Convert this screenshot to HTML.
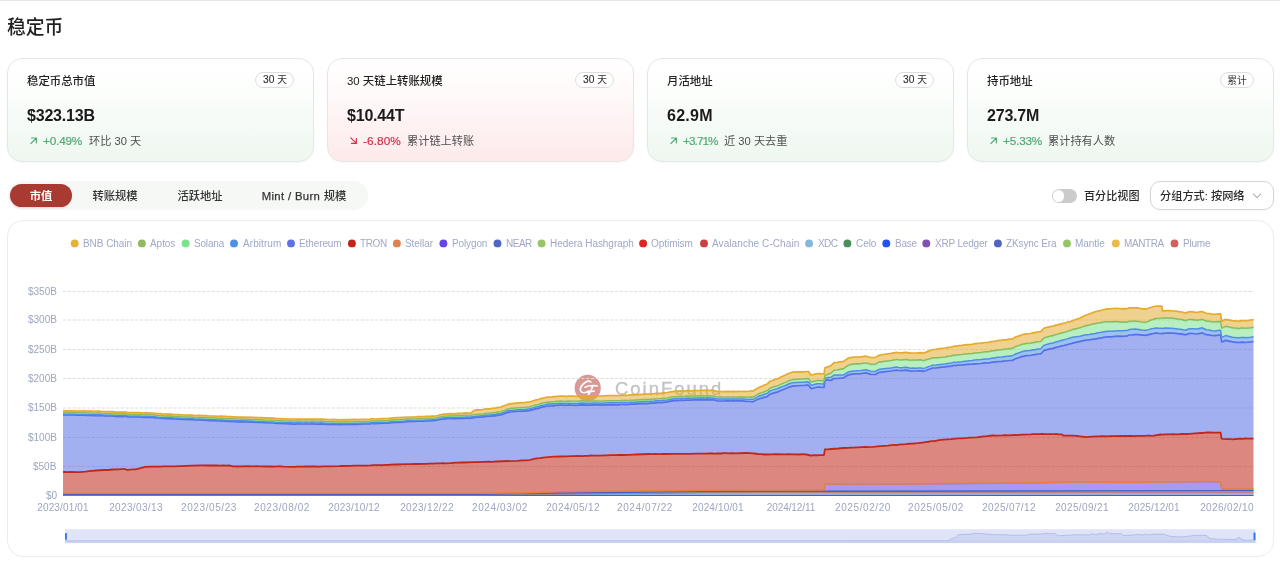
<!DOCTYPE html><html lang="zh"><head><meta charset="utf-8"><title>稳定币</title><style>
*{box-sizing:border-box}
html,body{margin:0;padding:0;background:#fff}
body{width:1280px;height:569px;position:relative;overflow:hidden;font-family:"Liberation Sans", "Noto Sans CJK SC", sans-serif;-webkit-font-smoothing:antialiased}
.t{position:absolute;white-space:nowrap;will-change:transform}
.cj{display:inline;font-family:"Liberation Sans", "Noto Sans CJK SC", sans-serif}
.card{position:absolute;border-radius:15px;border:1px solid #e4e7e4;box-shadow:0 1px 2px rgba(0,0,0,.03)}
.badge{position:absolute;border-radius:8px;border:1px solid #dcdedc;background:#fff}
.ccard{position:absolute;border-radius:16px;border:1px solid #ececee;background:#fff}
.topline{position:absolute;left:0;top:0;width:1280px;height:1px;background:#e6e8e6}
</style></head><body><div class="topline"></div><div class="t" style="left:7.00px;top:8.69px;line-height:38px;font-size:18.8px;color:#222;font-weight:400;"><span class="cj" style="font-size:18.8px;font-weight:500;color:#1f1f1f;">稳定币</span></div><div class="card" style="left:7px;top:58px;width:307px;height:104px;background:linear-gradient(180deg,#ffffff 0%,#fcfefc 30%,#eef7f0 100%)"></div><div class="t" style="left:27.10px;top:69.95px;line-height:23px;font-size:11.4px;color:#222;font-weight:400;"><span class="cj" style="font-size:11.4px;font-weight:500;color:#222;">稳定币总市值</span></div><div class="badge" style="left:255.00px;top:72px;width:39px;height:16px"></div><div class="t" style="left:-25.30px;width:600px;text-align:center;top:69.67px;line-height:20px;font-size:10.2px;color:#333;font-weight:400;-webkit-text-stroke:0.15px #333;">30 <span class="cj" style="font-size:9.8px;font-weight:400;color:#333;-webkit-text-stroke:0;">天</span></div><div class="t" style="left:27.40px;top:99.56px;line-height:32px;font-size:16px;color:#1a1a1a;font-weight:700;letter-spacing:-0.2px;">$323.13B</div><svg style="position:absolute;left:29.5px;top:136.7px" width="7.4" height="7.4" viewBox="0 0 8 8"><path d="M1.6 1.1H6.9V6.4M6.7 1.3L0.9 7.1" fill="none" stroke="#52a974" stroke-width="1.3" stroke-linecap="round" stroke-linejoin="round"/></svg><div class="t" style="left:43.30px;top:128.91px;line-height:24px;font-size:11.8px;color:#52a974;font-weight:400;letter-spacing:-0.2px;-webkit-text-stroke:0.2px #52a974;">+0.49%</div><div class="card" style="left:327px;top:58px;width:307px;height:104px;background:linear-gradient(180deg,#ffffff 0%,#fffafa 30%,#fdeaeb 100%)"></div><div class="t" style="left:347.10px;top:69.95px;line-height:23px;font-size:11.4px;color:#222;font-weight:400;">30 <span class="cj" style="font-size:11.4px;font-weight:500;color:#222;">天链上转账规模</span></div><div class="badge" style="left:575.00px;top:72px;width:39px;height:16px"></div><div class="t" style="left:294.70px;width:600px;text-align:center;top:69.67px;line-height:20px;font-size:10.2px;color:#333;font-weight:400;-webkit-text-stroke:0.15px #333;">30 <span class="cj" style="font-size:9.8px;font-weight:400;color:#333;-webkit-text-stroke:0;">天</span></div><div class="t" style="left:347.40px;top:99.56px;line-height:32px;font-size:16px;color:#1a1a1a;font-weight:700;letter-spacing:-0.2px;">$10.44T</div><svg style="position:absolute;left:349.8px;top:136.7px" width="7.4" height="7.4" viewBox="0 0 8 8"><path d="M6.9 1.6V6.9H1.6M6.7 6.7L0.9 0.9" fill="none" stroke="#d5304a" stroke-width="1.3" stroke-linecap="round" stroke-linejoin="round"/></svg><div class="t" style="left:363.30px;top:128.91px;line-height:24px;font-size:11.8px;color:#d5304a;font-weight:400;letter-spacing:0.08px;-webkit-text-stroke:0.2px #d5304a;">-6.80%</div><div class="card" style="left:647px;top:58px;width:307px;height:104px;background:linear-gradient(180deg,#ffffff 0%,#fcfefc 30%,#eef7f0 100%)"></div><div class="t" style="left:667.10px;top:69.95px;line-height:23px;font-size:11.4px;color:#222;font-weight:400;"><span class="cj" style="font-size:11.4px;font-weight:500;color:#222;">月活地址</span></div><div class="badge" style="left:895.00px;top:72px;width:39px;height:16px"></div><div class="t" style="left:614.70px;width:600px;text-align:center;top:69.67px;line-height:20px;font-size:10.2px;color:#333;font-weight:400;-webkit-text-stroke:0.15px #333;">30 <span class="cj" style="font-size:9.8px;font-weight:400;color:#333;-webkit-text-stroke:0;">天</span></div><div class="t" style="left:667.40px;top:99.56px;line-height:32px;font-size:16px;color:#1a1a1a;font-weight:700;letter-spacing:0.25px;">62.9M</div><svg style="position:absolute;left:669.5px;top:136.7px" width="7.4" height="7.4" viewBox="0 0 8 8"><path d="M1.6 1.1H6.9V6.4M6.7 1.3L0.9 7.1" fill="none" stroke="#52a974" stroke-width="1.3" stroke-linecap="round" stroke-linejoin="round"/></svg><div class="t" style="left:683.30px;top:128.91px;line-height:24px;font-size:11.8px;color:#52a974;font-weight:400;letter-spacing:-0.95px;-webkit-text-stroke:0.2px #52a974;">+3.71%</div><div class="card" style="left:967px;top:58px;width:307px;height:104px;background:linear-gradient(180deg,#ffffff 0%,#fcfefc 30%,#eef7f0 100%)"></div><div class="t" style="left:987.10px;top:69.95px;line-height:23px;font-size:11.4px;color:#222;font-weight:400;"><span class="cj" style="font-size:11.4px;font-weight:500;color:#222;">持币地址</span></div><div class="badge" style="left:1219.50px;top:72px;width:34.5px;height:16px"></div><div class="t" style="left:937.15px;width:600px;text-align:center;top:70.57px;line-height:20px;font-size:10.2px;color:#333;font-weight:400;-webkit-text-stroke:0.15px #333;"><span class="cj" style="font-size:9.8px;font-weight:400;color:#333;-webkit-text-stroke:0;">累计</span></div><div class="t" style="left:987.40px;top:99.56px;line-height:32px;font-size:16px;color:#1a1a1a;font-weight:700;letter-spacing:-0.2px;">273.7M</div><svg style="position:absolute;left:989.5px;top:136.7px" width="7.4" height="7.4" viewBox="0 0 8 8"><path d="M1.6 1.1H6.9V6.4M6.7 1.3L0.9 7.1" fill="none" stroke="#52a974" stroke-width="1.3" stroke-linecap="round" stroke-linejoin="round"/></svg><div class="t" style="left:1003.30px;top:128.91px;line-height:24px;font-size:11.8px;color:#52a974;font-weight:400;letter-spacing:-0.2px;-webkit-text-stroke:0.2px #52a974;">+5.33%</div><div class="t" style="left:89.00px;top:130.12px;line-height:22px;font-size:11.2px;color:#505050;font-weight:400;"><span class="cj" style="font-size:11.2px;font-weight:400;color:#505050;">环比</span> 30 <span class="cj" style="font-size:11.2px;font-weight:400;color:#505050;">天</span></div><div class="t" style="left:407.40px;top:130.12px;line-height:22px;font-size:11.2px;color:#505050;font-weight:400;"><span class="cj" style="font-size:11.2px;font-weight:400;color:#505050;">累计链上转账</span></div><div class="t" style="left:723.50px;top:130.12px;line-height:22px;font-size:11.2px;color:#505050;font-weight:400;"><span class="cj" style="font-size:11.2px;font-weight:400;color:#505050;">近</span> 30 <span class="cj" style="font-size:11.2px;font-weight:400;color:#505050;">天去重</span></div><div class="t" style="left:1047.60px;top:130.12px;line-height:22px;font-size:11.2px;color:#505050;font-weight:400;"><span class="cj" style="font-size:11.2px;font-weight:400;color:#505050;">累计持有人数</span></div><div style="position:absolute;left:8px;top:181.3px;width:360px;height:28.8px;border-radius:15px;background:#f6f8f6"></div><div style="position:absolute;left:9.8px;top:184px;width:62.3px;height:23.4px;border-radius:12px;background:#a93a32;box-shadow:0 1px 2px rgba(0,0,0,.12)"></div><div class="t" style="left:-259.10px;width:600px;text-align:center;top:184.78px;line-height:23px;font-size:11.3px;color:#fff;font-weight:400;"><span class="cj" style="font-size:11.3px;font-weight:700;color:#fff;">市值</span></div><div class="t" style="left:-185.00px;width:600px;text-align:center;top:184.78px;line-height:23px;font-size:11.3px;color:#333;font-weight:400;"><span class="cj" style="font-size:11.3px;font-weight:500;color:#333;">转账规模</span></div><div class="t" style="left:-100.00px;width:600px;text-align:center;top:184.78px;line-height:23px;font-size:11.3px;color:#333;font-weight:400;"><span class="cj" style="font-size:11.3px;font-weight:500;color:#333;">活跃地址</span></div><div class="t" style="left:3.90px;width:600px;text-align:center;top:184.78px;line-height:23px;font-size:11.3px;color:#333;font-weight:400;letter-spacing:0.35px;-webkit-text-stroke:0.25px #333;">Mint / Burn <span class="cj" style="font-size:11.3px;font-weight:500;color:#333;letter-spacing:0;-webkit-text-stroke:0;">规模</span></div><div style="position:absolute;left:1051.5px;top:188.6px;width:25.8px;height:14.2px;border-radius:8px;background:#c9ccc9"></div><div style="position:absolute;left:1052.7px;top:189.8px;width:11.8px;height:11.8px;border-radius:6px;background:#fff"></div><div class="t" style="left:1083.90px;top:185.25px;line-height:22px;font-size:11.1px;color:#2a2a2a;font-weight:400;"><span class="cj" style="font-size:11.1px;font-weight:500;color:#2a2a2a;">百分比视图</span></div><div style="position:absolute;left:1149.5px;top:181.3px;width:124px;height:28.8px;border-radius:10px;border:1px solid #d4d6d4;background:#fff;box-sizing:border-box;box-shadow:0 1px 2px rgba(0,0,0,.04)"></div><div class="t" style="left:1159.50px;top:185.22px;line-height:22px;font-size:11.2px;color:#2a2a2a;font-weight:400;"><span class="cj" style="font-size:11.2px;font-weight:500;color:#2a2a2a;">分组方式</span>: <span class="cj" style="font-size:11.2px;font-weight:500;color:#2a2a2a;">按网络</span></div><svg style="position:absolute;left:1252px;top:192px" width="10" height="8" viewBox="0 0 10 8"><path d="M1.3 2L5 5.6L8.7 2" fill="none" stroke="#8a8a8a" stroke-width="1" stroke-linecap="round" stroke-linejoin="round"/></svg><div class="ccard" style="left:7px;top:220px;width:1267px;height:337px"></div><svg style="position:absolute;left:0;top:0" width="1280" height="569" viewBox="0 0 1280 569"><g opacity="0.55"><circle cx="587.7" cy="387.9" r="13.1" fill="#b8443c"/><path d="M590.8 381.9C589.5 380.9 587.5 381 585.5 382.2C582 384.300 579.600 388 580.600 390.800C581.500 393.200 585 393.600 588.800 390.900M585 387.200C588 385.600 593 385.200 597 385.900M592.800 385.800C591.800 389.500 590.500 392.500 588.300 394.800M586.200 392.300L594.200 391" fill="none" stroke="#fff" stroke-width="1.7" stroke-linecap="round"/></g><text x="615" y="395.2" font-family='"Liberation Sans", sans-serif' font-size="18.4" letter-spacing="2.03" fill="#8c8c90" stroke="#8c8c90" stroke-width="0.35" opacity="0.52">CoinFound</text><line x1="63" x2="1254" y1="466.45" y2="466.45" stroke="#dddddf" stroke-width="1" stroke-dasharray="3.2 1.6"/><line x1="63" x2="1254" y1="437.50" y2="437.50" stroke="#dddddf" stroke-width="1" stroke-dasharray="3.2 1.6"/><line x1="63" x2="1254" y1="408.00" y2="408.00" stroke="#dddddf" stroke-width="1" stroke-dasharray="3.2 1.6"/><line x1="63" x2="1254" y1="378.45" y2="378.45" stroke="#dddddf" stroke-width="1" stroke-dasharray="3.2 1.6"/><line x1="63" x2="1254" y1="349.55" y2="349.55" stroke="#dddddf" stroke-width="1" stroke-dasharray="3.2 1.6"/><line x1="63" x2="1254" y1="320.00" y2="320.00" stroke="#dddddf" stroke-width="1" stroke-dasharray="3.2 1.6"/><line x1="63" x2="1254" y1="291.45" y2="291.45" stroke="#dddddf" stroke-width="1" stroke-dasharray="3.2 1.6"/><g transform="scale(0.1)"><path d="M630 4953l11905 0l0 3 -11905 0z" fill="#7a48b0" fill-opacity="0.55"/><path d="M630 4950l4170 0 2200-18 1260 0 4275 0l0 21 -11905 0z" fill="#5aa9f0" fill-opacity="0.55"/><path d="M630 4948l4170 0 2200-22 1260-2 4275-4l0 12 -4275 0 -1260 0 -2200 18 -4170 0z" fill="#c8413d" fill-opacity="0.55"/><path d="M630 4948l4170 0 800-12 1400-14 1260-4 4275-4l0 6 -4275 4 -1260 2 -2200 22 -4170 0z" fill="#98c568" fill-opacity="0.55"/><path d="M630 4944l4170 0 800-14 1400-14 1240-4 4295-6l0 8 -4275 4 -1260 4 -1400 14 -800 12 -4170 0z" fill="#4560c4" fill-opacity="0.55"/><path d="M630 4938l4170 0 400-4 400-10 1400-16 1241-4 7-60 252 2 810-2 310-6 530-4 560-10 560 2 570-2 180-6 186 6 10 72 319 0l0 10 -4295 6 -1240 4 -1400 14 -800 14 -4170 0z" fill="#6446e8" fill-opacity="0.55"/><path d="M630 4932l4170 0 400-2 400-12 1400-16 1241-2 7-60 252 0 810-2 310-6 530-2 560-10 560 2 570-4 180-6 186 6 10 72 319 0l0 6 -319 0 -10-72 -186-6 -180 6 -570 2 -560-2 -560 10 -530 4 -310 6 -810 2 -252-2 -7 60 -1241 4 -1400 16 -400 10 -400 4 -4170 0z" fill="#e58040" fill-opacity="0.55"/><path d="M630 4720l15-1 30 2 30-1 60 1 29 0 61-5 60-8 45-3 75-5 45 0 45-5 60-1 59-6 26 12 5-2 60-5 21 0 69-17 25-8 65-2 30 1 30-1 30 0 30-2 60 0 30-1 30 1 30-2 30 0 45-3 60-2 90-3 30 0 45 1 75-1 45 2 30-1 30 1 29-2 16 6 20 4 10 0 30 1 30-2 75-1 60 1 30-1 30 1 30 0 45 2 45-1 30 2 30-2 30 0 30 2 115 2 20-1 60 0 30-2 75-1 60 2 45-3 30 1 30-1 90-1 29-2 91-1 30-3 60 1 60-1 45-2 30-2 90-1 30-2 30 0 3-1 12-2 15 1 30-2 135-3 30 0 30-2 120-2 30-2 30 1 45-4 45 1 2-1 13-1 30 1 45-2 60-4 30 0 30-3 18 1 102-4 30 1 120-5 30 1 45-3 115-5 8 1 87-2 45-5 45 0 29-3 56-14 20-4 30-2 30-4 108-10 27 0 30-2 75-1 45-3 30 1 30-3 45 2 30-3 30 0 32-3 28 1 60 0 45-3 30 0 30-2 45 1 45-2 45 0 30-2 15 0 3 1 42-2 30-2 135-5 30 1 30-2 30 2 45-2 30 1 60-2 30 1 15 0 15-1 60 1 15-1 45 0 60-2 45 1 30-1 15 0 45-2 30 1 15 2 15-1 15-3 30 2 15 0 15-3 30-1 30 2 30-1 30 1 105-3 51 2 19 2 20 1 30 5 25 1 50 4 15-1 15 1 20-1 25 0 25-3 110 3 30-2 30 2 15-1 45 2 60-3 45 8 21 5 54-3 15 1 15-1 30-1 21-1 7-55 12-1 20 0 30-4 75-5 45-5 55-1 15-3 35 0 125-7 1 1 9 1 60-2 25-2 20-3 105-8 60-7 10 0 5 2 11 0 19-4 74-5 16-4 60-3 40-3 20-3 15 0 45-8 45-6 15-4 10 0 5 1 15-1 45-9 45-5 75-5 42-6 33-3 30 0 60-5 15-2 75-3 75-10 30-1 55-7 35 1 60-2 36-2 24 2 70-4 20 1 50-5 85-2 30-3 60 1 13-1 2-2 15 1 18 2 27-1 75 0 17-1 10 1 3 2 44 1 19 13 42-1 30 1 10 0 5-1 45 2 30 5 62 9 58-5 120-5 18 2 42-3 170-2 22 1 18 0 45 1 7-2 83 0 30-2 28 0 2 1 33-2 72-11 8 1 37-3 36 1 39-2 45 1 45-3 15 0 5 2 15-2 40-2 55-5 65-3 5 1 25-4 15 0 15-2 15 0 58 2 17 0 41 0 10 59 9 2 45 3 30 0 25 2 20-2 17 1 28-6 30 2 36-3 24 2 55-1l0 504 -319 0 -10-72 -186-6 -180 6 -570 4 -560-2 -560 10 -530 2 -310 6 -810 2 -252 0 -7 60 -1241 2 -1400 16 -400 12 -400 2 -4170 0z" fill="#c0271a" fill-opacity="0.55"/><path d="M630 4150l105-1 30 2 75 0 30 2 30 0 45 3 45-2 30 3 45 2 60 1 30 4 15 1 60 1 14-1 1-1 15 1 15 4 30 0 15 1 75 0 45 3 15-2 30 4 3-1 12-1 15 1 60 6 30 2 15 2 60 2 30 0 30 4 15-1 30 2 45 4 90 1 30 4 45-1 30 2 25 0 50 5 45 0 30 3 30 0 45 2 30 3 15-1 90 5 30 0 120 3 45 4 30 0 45 2 75 3 45 5 30-1 30 3 30 0 30 2 15-1 30 3 45-2 45 1 30-1 30 1 30-2 60 3 30-3 60 5 45 0 15-1 60 4 60-3 45 2 55-3 20 1 60-3 70 0 19-8 16 5 15 0 75-5 60-1 30-4 45-3 30 0 90-8 75-2 30-3 45 1 30-4 30 1 30-3 36-1 24-5 20-7 12-2 28-3 10-1 5 1 15-1 15-2 15 0 30 2 60-4 30 1 45-3 15 1 30-1 60-9 30 0 30-3 30-6 45-1 14-2 1-1 30-1 30-6 30-2 15-7 30-10 25-10 20-3 60-5 60-3 30 0 30-5 14-1 61-17 15-2 15-3 30-12 30-5 15-4 20-3 40-2 45-5 15 0 20-2 25 0 30 3 30-4 30 2 45 1 60-5 45 3 45 0 30-2 15 0 60 2 60-3 45-1 80 1 10-3 15-1 30 2 30-1 15-3 45-1 60-4 45-2 25 1 35-4 30-1 30-4 45-1 15-3 45-4 30-8 70-7 5 2 15-1 15-3 30 1 30-3 45 2 30-3 45 0 45-3 3 2 12 0 30-2 30 2 20 0 40 10 75 2 30-3 30 3 30-3 30 2 15-1 30 0 30 3 30 4 36 0 19 3 5-1 45-22 25-10 20-4 30-11 15-2 10-4 5-5 20-17 40-13 30-8 15-5 30-14 45-17 30-14 33-10 87-6 30 0 10 0 5-3 15 0 15 1 2 1 23 31 5 1 54-14 21 0 45 3 6-2 7-69 2 1 15-3 15 0 29 3 30-20 31 0 68-6 22-16 25-15 5 0 30-7 15-2 75-3 51-7 47 15 47 1 20-13 15-8 45-6 75-8 56-9 4 2 15 2 30 2 44-5 47 10 29-2 30 0 15-1 30-1 15 3 5 3 10-2 15-5 30-12 25-8 15-7 35 0 40-6 50-5 30-5 15 0 15-3 30-7 10 1 2 1 33-5 30-1 15-2 45-4 45-2 30-4 60-3 45-6 30 1 40-8 5 0 15-1 30-5 45-3 15-2 15-1 6 0 39-5 15 0 5 2 25-11 15-9 45-14 20-9 10-1 30-6 45-2 15-5 15-2 3 1 42-9 28-2 17-18 18-17 57-14 30-5 30-10 15-2 44-13 1 1 45-11 30-9 15-3 15-6 120-27 30-4 30-3 30-5 17 0 43-10 17-3 43-9 30-2 30 0 30-4 45-2 30 2 45-4 5 1 22-11 33-2 15-2 15-1 5 1 10-1 18 1 27 6 30 0 15 2 15-5 30-8 30-6 3-1 27-3 8 0 7 2 30 2 8 1 37-5 45-1 30 2 30 2 30 4 15 0 3-1 47 11 25-9 15-4 7-1 23 1 47 5 13-4 15-3 15-2 5-3 42 19 28 2 30 6 28 2 47-7 11-1 10 71 24-9 15-8 70 16 35 4 15 1 15 1 10 0 5-2 15-1 30 1 6 2 54-6 25-4l0 971 -55 1 -24-2 -36 3 -30-2 -28 6 -17-1 -20 2 -25-2 -30 0 -45-3 -9-2 -10-59 -41 0 -17 0 -58-2 -15 0 -15 2 -15 0 -25 4 -5-1 -65 3 -55 5 -40 2 -15 2 -5-2 -15 0 -45 3 -45-1 -39 2 -36-1 -37 3 -8-1 -72 11 -33 2 -2-1 -28 0 -30 2 -83 0 -7 2 -45-1 -18 0 -22-1 -170 2 -42 3 -18-2 -120 5 -58 5 -62-9 -30-5 -45-2 -5 1 -10 0 -30-1 -42 1 -19-13 -44-1 -3-2 -10-1 -17 1 -75 0 -27 1 -18-2 -15-1 -2 2 -13 1 -60-1 -30 3 -85 2 -50 5 -20-1 -70 4 -24-2 -36 2 -60 2 -35-1 -55 7 -30 1 -75 10 -75 3 -15 2 -60 5 -30 0 -33 3 -42 6 -75 5 -45 5 -45 9 -15 1 -5-1 -10 0 -15 4 -45 6 -45 8 -15 0 -20 3 -40 3 -60 3 -16 4 -74 5 -19 4 -11 0 -5-2 -10 0 -60 7 -105 8 -20 3 -25 2 -60 2 -9-1 -1-1 -125 7 -35 0 -15 3 -55 1 -45 5 -75 5 -30 4 -20 0 -12 1 -7 55 -21 1 -30 1 -15 1 -15-1 -54 3 -21-5 -45-8 -60 3 -45-2 -15 1 -30-2 -30 2 -110-3 -25 3 -25 0 -20 1 -15-1 -15 1 -50-4 -25-1 -30-5 -20-1 -19-2 -51-2 -105 3 -30-1 -30 1 -30-2 -30 1 -15 3 -15 0 -30-2 -15 3 -15 1 -15-2 -30-1 -45 2 -15 0 -30 1 -45-1 -60 2 -45 0 -15 1 -60-1 -15 1 -15 0 -30-1 -60 2 -30-1 -45 2 -30-2 -30 2 -30-1 -135 5 -30 2 -42 2 -3-1 -15 0 -30 2 -45 0 -45 2 -45-1 -30 2 -30 0 -45 3 -60 0 -28-1 -32 3 -30 0 -30 3 -45-2 -30 3 -30-1 -45 3 -75 1 -30 2 -27 0 -108 10 -30 4 -30 2 -20 4 -56 14 -29 3 -45 0 -45 5 -87 2 -8-1 -115 5 -45 3 -30-1 -120 5 -30-1 -102 4 -18-1 -30 3 -30 0 -60 4 -45 2 -30-1 -13 1 -2 1 -45-1 -45 4 -30-1 -30 2 -120 2 -30 2 -30 0 -135 3 -30 2 -15-1 -12 2 -3 1 -30 0 -30 2 -90 1 -30 2 -45 2 -60 1 -60-1 -30 3 -91 1 -29 2 -90 1 -30 1 -30-1 -45 3 -60-2 -75 1 -30 2 -60 0 -20 1 -115-2 -30-2 -30 0 -30 2 -30-2 -45 1 -45-2 -30 0 -30-1 -30 1 -60-1 -75 1 -30 2 -30-1 -10 0 -20-4 -16-6 -29 2 -30-1 -30 1 -45-2 -75 1 -45-1 -30 0 -90 3 -60 2 -45 3 -30 0 -30 2 -30-1 -30 1 -60 0 -30 2 -30 0 -30 1 -30-1 -65 2 -25 8 -69 17 -21 0 -60 5 -5 2 -26-12 -59 6 -60 1 -45 5 -45 0 -75 5 -45 3 -60 8 -61 5 -29 0 -60-1 -30 1 -30-2 -15 1z" fill="#5570e8" fill-opacity="0.55"/><path d="M630 4141l105-1 30 2 75 0 30 2 30-1 45 4 45-2 30 3 45 2 60 0 30 5 15 1 60 0 14-1 1-1 15 1 15 5 30-1 15 2 75-1 45 4 15-3 30 4 3-1 12 0 15 0 60 6 30 2 15 2 60 2 30 0 30 4 15-1 30 2 45 4 90 1 30 4 45-1 30 2 25 0 50 5 45 0 30 3 30-1 45 2 30 3 15-1 90 6 30-1 120 4 45 3 30 0 45 3 75 2 45 5 30-1 30 3 30 0 30 2 15-1 30 3 45-2 45 1 30-1 30 1 30-2 60 3 30-2 60 4 45 1 15-1 60 3 60-2 45 2 55-3 20 0 60-2 70 0 19-8 16 5 15 0 75-4 60-2 30-4 45-3 30 0 90-7 75-3 30-2 45 0 30-3 30 1 30-3 36-1 24-5 20-7 40-6 10 0 5 1 30-4 15 0 30 1 60-4 30 0 45-3 15 1 30-1 60-9 30-1 30-3 30-5 45-2 14-2 1-1 30-1 30-7 30-3 15-6 30-11 25-10 20-3 60-6 60-4 30 0 30-5 14-1 61-18 15-2 15-4 30-11 30-5 15-5 20-3 40-1 45-6 15 0 20-2 25 1 30 2 30-3 30 2 45 0 60-5 45 3 45 0 30-2 15 0 60 2 60-4 45 0 80 0 10-2 15-1 30 1 30-1 15-3 45 0 60-5 45-2 25 1 35-4 30-1 30-4 45-1 15-3 45-4 30-7 70-7 5 1 15 0 15-3 30 1 30-3 45 2 30-3 45 0 45-3 3 2 12 0 30-2 30 2 20 0 40 10 75 2 30-2 30 2 30-2 30 2 15-2 32 1 28 1 30 3 36-2 19 1 5 0 45-24 25-12 20-5 30-13 15-3 10-4 5-5 20-18 40-13 30-8 15-5 30-14 45-17 30-14 33-10 87-6 30 0 10-1 5-2 15-1 15 1 2 1 23 31 5 1 54-15 21 0 45 3 6-2 7-57 2 0 15-4 15-2 29-1 31-24 30 1 68-2 22-16 25-13 5 0 15-5 30-5 75-5 51-7 47 15 47 1 20-13 15-7 45-7 75-7 56-10 4 2 15 3 30 2 44-5 47 10 29-1 30 1 15-2 30 0 15 2 5 3 10-1 15-5 30-13 25-7 15-7 35-1 90-11 30-6 15-1 15-2 30-9 10 1 2 2 33-6 30-2 15-3 45-5 45-3 30-5 60-5 45-6 30 0 40-10 5 1 15-1 30-7 45-3 15-3 15-2 6 1 39-6 15-1 5 1 25-11 15-9 45-15 20-9 10-1 30-7 45-3 15-5 15-2 3 1 42-10 28-2 17-19 18-17 57-16 30-5 30-11 15-3 44-13 1 0 45-12 60-18 75-11 45-11 25-4 20-2 45-8 17-1 43-10 17-3 43-9 30-2 30 0 30-3 45-2 30 1 45-3 5 1 25-11 60-4 33 3 27 7 30 1 11 3 4 0 15-6 30-8 30-7 3-1 35-3 7 2 30 1 8 1 37-4 60 2 45 5 30 5 15 1 3-1 47 10 25-10 15-4 7-1 23 1 47 3 13-4 15-4 15-2 5-3 42 20 28 2 30 8 28 2 47-7 11-1 10 71 24-9 15-8 70 16 35 4 15 1 15 1 10 0 5-2 15-1 30 1 6 2 54-6 25-4l0 47 -25 4 -54 6 -6-2 -30-1 -15 1 -5 2 -10 0 -15-1 -15-1 -35-4 -70-16 -15 8 -24 9 -10-71 -11 1 -47 7 -28-2 -30-6 -28-2 -42-19 -5 3 -15 2 -15 3 -13 4 -47-5 -23-1 -7 1 -15 4 -25 9 -47-11 -3 1 -15 0 -30-4 -30-2 -30-2 -45 1 -37 5 -8-1 -30-2 -7-2 -8 0 -27 3 -3 1 -30 6 -30 8 -15 5 -15-2 -30 0 -27-6 -18-1 -10 1 -5-1 -15 1 -15 2 -33 2 -22 11 -5-1 -45 4 -30-2 -45 2 -30 4 -30 0 -30 2 -43 9 -17 3 -43 10 -17 0 -30 5 -30 3 -30 4 -120 27 -15 6 -15 3 -30 9 -45 11 -1-1 -44 13 -15 2 -30 10 -30 5 -57 14 -18 17 -17 18 -28 2 -42 9 -3-1 -15 2 -15 5 -45 2 -30 6 -10 1 -20 9 -45 14 -15 9 -25 11 -5-2 -15 0 -39 5 -6 0 -15 1 -15 2 -45 3 -30 5 -15 1 -5 0 -40 8 -30-1 -45 6 -60 3 -30 4 -45 2 -45 4 -15 2 -30 1 -33 5 -2-1 -10-1 -30 7 -15 3 -15 0 -30 5 -50 5 -40 6 -35 0 -15 7 -25 8 -30 12 -15 5 -10 2 -5-3 -15-3 -30 1 -15 1 -30 0 -29 2 -47-10 -44 5 -30-2 -15-2 -4-2 -56 9 -75 8 -45 6 -15 8 -20 13 -47-1 -47-15 -51 7 -75 3 -15 2 -30 7 -5 0 -25 15 -22 16 -68 6 -31 0 -30 20 -29-3 -15 0 -15 3 -2-1 -7 69 -6 2 -45-3 -21 0 -54 14 -5-1 -23-31 -2-1 -15-1 -15 0 -5 3 -10 0 -30 0 -87 6 -33 10 -30 14 -45 17 -30 14 -15 5 -30 8 -40 13 -20 17 -5 5 -10 4 -15 2 -30 11 -20 4 -25 10 -45 22 -5 1 -19-3 -36 0 -30-4 -30-3 -30 0 -15 1 -30-2 -30 3 -30-3 -30 3 -75-2 -40-10 -20 0 -30-2 -30 2 -12 0 -3-2 -45 3 -45 0 -30 3 -45-2 -30 3 -30-1 -15 3 -15 1 -5-2 -70 7 -30 8 -45 4 -15 3 -45 1 -30 4 -30 1 -35 4 -25-1 -45 2 -60 4 -45 1 -15 3 -30 1 -30-2 -15 1 -10 3 -80-1 -45 1 -60 3 -60-2 -15 0 -30 2 -45 0 -45-3 -60 5 -45-1 -30-2 -30 4 -30-3 -25 0 -20 2 -15 0 -45 5 -40 2 -20 3 -15 4 -30 5 -30 12 -15 3 -15 2 -61 17 -14 1 -30 5 -30 0 -60 3 -60 5 -20 3 -25 10 -30 10 -15 7 -30 2 -30 6 -30 1 -1 1 -14 2 -45 1 -30 6 -30 3 -30 0 -60 9 -30 1 -15-1 -45 3 -30-1 -60 4 -30-2 -15 0 -15 2 -15 1 -5-1 -10 1 -28 3 -12 2 -20 7 -24 5 -36 1 -30 3 -30-1 -30 4 -45-1 -30 3 -75 2 -90 8 -30 0 -45 3 -30 4 -60 1 -75 5 -15 0 -16-5 -19 8 -70 0 -60 3 -20-1 -55 3 -45-2 -60 3 -60-4 -15 1 -45 0 -60-5 -30 3 -60-3 -30 2 -30-1 -30 1 -45-1 -45 2 -30-3 -15 1 -30-2 -30 0 -30-3 -30 1 -45-5 -75-3 -45-2 -30 0 -45-4 -120-3 -30 0 -90-5 -15 1 -30-3 -45-2 -30 0 -30-3 -45 0 -50-5 -25 0 -30-2 -45 1 -30-4 -90-1 -45-4 -30-2 -15 1 -30-4 -30 0 -60-2 -15-2 -30-2 -60-6 -15-1 -12 1 -3 1 -30-4 -15 2 -45-3 -75 0 -15-1 -30 0 -15-4 -15-1 -1 1 -14 1 -60-1 -15-1 -30-4 -60-1 -45-2 -30-3 -45 2 -45-3 -30 0 -30-2 -75 0 -30-2 -105 1z" fill="#4c90e8" fill-opacity="0.55"/><path d="M630 4129l105 0 30 2 75-1 30 2 30 0 45 3 45-2 30 3 45 2 60 1 30 4 15 1 60 0 14 0 1-2 15 1 15 5 30-1 15 2 75-1 45 4 15-3 30 4 3-1 12-1 15 1 60 6 30 2 15 2 60 2 30 0 30 4 15-1 30 1 45 5 90 1 30 4 45-2 30 3 25 0 50 4 45 0 30 3 30 0 45 2 30 3 15-1 90 5 30-1 120 4 45 3 30 0 45 2 75 3 45 5 30-1 30 3 30-1 30 3 15-1 30 2 45-2 45 2 30-1 30 1 30-2 60 3 30-3 60 5 45 0 15-1 60 4 60-2 45 2 55-3 20 0 60-2 70 0 19-8 16 6 15-1 75-4 60-2 30-3 45-4 30 1 90-8 75-2 30-3 45 1 30-3 30 1 30-3 36-1 24-5 20-7 40-6 10 0 5 1 30-4 15-1 30 2 45-4 45-1 45-3 30 1 15-1 60-9 30-1 30-4 30-5 45-2 14-2 1-1 30-2 30-7 30-2 15-7 30-11 25-10 20-3 60-6 60-4 30-1 30-5 14-1 56-18 35-6 30-11 30-6 15-4 20-3 40-2 45-5 15 0 20-2 25 0 30 3 30-3 30 1 45 1 60-5 45 3 45 0 30-2 15 0 60 2 60-4 45 0 80 0 10-2 15-1 30 2 30-2 15-3 45 0 60-4 45-2 25 0 35-4 30-1 30-3 45-1 15-4 45-4 30-7 15-2 55-5 5 2 15-1 15-3 30 1 30-2 45 1 30-2 45-1 45-2 3 1 12 1 30-2 30 2 20-1 40 11 75 2 30-2 30 2 30-2 30 2 15-2 32 0 28 1 30 3 36-3 19 1 5-1 45-25 25-12 20-6 30-13 15-4 10-4 5-6 20-18 40-14 30-8 15-6 30-15 45-18 30-14 33-11 87-6 30 0 10-1 5-2 15-1 15 1 2 1 23 31 5 1 54-15 21 0 45 3 6-2 7-50 32-14 29-9 31-31 30-3 68-13 22-18 25-17 5 0 15-5 30-5 75-5 51-7 47 14 47 0 20-14 15-8 45-7 75-9 56-11 4 1 15 3 30 2 44-6 47 9 29-2 30 0 35-3 10 1 15 4 5 3 10-1 45-15 25-6 15-7 35 1 45-4 45-5 30-6 15-1 15-3 30-8 10 0 2 2 33-6 30-2 15-3 45-5 45-3 30-5 60-5 45-7 30 0 40-10 5 1 15-2 30-6 45-4 15-3 15-1 6 0 39-6 15-1 5 2 25-12 15-9 45-15 20-8 10-1 30-8 45-2 15-4 15-3 3 1 42-9 28-3 17-18 18-18 57-16 30-6 30-11 15-3 44-14 1 1 45-13 30-10 15-4 15-6 75-19 45-16 60-14 30-9 17-2 43-9 17-1 43-8 30-1 30 1 30-2 45 1 30 4 45-1 5 2 22-10 33 1 15-2 48 3 27 6 30 2 11 2 4 0 15-8 30-13 33-12 27-6 8-1 7 1 30-3 15 0 30-4 15 1 30 1 45 5 45 8 15 1 3-1 47 13 25-8 15-3 7-1 23 2 47 7 13-4 15-2 15-1 5-3 46 19 24 0 30 6 15 1 13 0 47-3 11 0 10 64 24-9 15-8 70 15 35 5 15 0 15 1 10 0 5-3 15-1 30 2 6 1 54-6 25-4l0 90 -25 4 -54 6 -6-2 -30-1 -15 1 -5 2 -10 0 -15-1 -15-1 -35-4 -70-16 -15 8 -24 9 -10-71 -11 1 -47 7 -28-2 -30-8 -28-2 -42-20 -5 3 -15 2 -15 4 -13 4 -47-3 -23-1 -7 1 -15 4 -25 10 -47-10 -3 1 -15-1 -30-5 -45-5 -60-2 -37 4 -8-1 -30-1 -7-2 -35 3 -3 1 -30 7 -30 8 -15 6 -4 0 -11-3 -30-1 -27-7 -33-3 -60 4 -25 11 -5-1 -45 3 -30-1 -45 2 -30 3 -30 0 -30 2 -43 9 -17 3 -43 10 -17 1 -45 8 -20 2 -25 4 -45 11 -75 11 -60 18 -45 12 -1 0 -44 13 -15 3 -30 11 -30 5 -57 16 -18 17 -17 19 -28 2 -42 10 -3-1 -15 2 -15 5 -45 3 -30 7 -10 1 -20 9 -45 15 -15 9 -25 11 -5-1 -15 1 -39 6 -6-1 -15 2 -15 3 -45 3 -30 7 -15 1 -5-1 -40 10 -30 0 -45 6 -60 5 -30 5 -45 3 -45 5 -15 3 -30 2 -33 6 -2-2 -10-1 -30 9 -15 2 -15 1 -30 6 -90 11 -35 1 -15 7 -25 7 -30 13 -15 5 -10 1 -5-3 -15-2 -30 0 -15 2 -30-1 -29 1 -47-10 -44 5 -30-2 -15-3 -4-2 -56 10 -75 7 -45 7 -15 7 -20 13 -47-1 -47-15 -51 7 -75 5 -30 5 -15 5 -5 0 -25 13 -22 16 -68 2 -30-1 -31 24 -29 1 -15 2 -15 4 -2 0 -7 57 -6 2 -45-3 -21 0 -54 15 -5-1 -23-31 -2-1 -15-1 -15 1 -5 2 -10 1 -30 0 -87 6 -33 10 -30 14 -45 17 -30 14 -15 5 -30 8 -40 13 -20 18 -5 5 -10 4 -15 3 -30 13 -20 5 -25 12 -45 24 -5 0 -19-1 -36 2 -30-3 -28-1 -32-1 -15 2 -30-2 -30 2 -30-2 -30 2 -75-2 -40-10 -20 0 -30-2 -30 2 -12 0 -3-2 -45 3 -45 0 -30 3 -45-2 -30 3 -30-1 -15 3 -15 0 -5-1 -70 7 -30 7 -45 4 -15 3 -45 1 -30 4 -30 1 -35 4 -25-1 -45 2 -60 5 -45 0 -15 3 -30 1 -30-1 -15 1 -10 2 -80 0 -45 0 -60 4 -60-2 -15 0 -30 2 -45 0 -45-3 -60 5 -45 0 -30-2 -30 3 -30-2 -25-1 -20 2 -15 0 -45 6 -40 1 -20 3 -15 5 -30 5 -30 11 -15 4 -15 2 -61 18 -14 1 -30 5 -30 0 -60 4 -60 6 -20 3 -25 10 -30 11 -15 6 -30 3 -30 7 -30 1 -1 1 -14 2 -45 2 -30 5 -30 3 -30 1 -60 9 -30 1 -15-1 -45 3 -30 0 -60 4 -30-1 -15 0 -30 4 -5-1 -10 0 -40 6 -20 7 -24 5 -36 1 -30 3 -30-1 -30 3 -45 0 -30 2 -75 3 -90 7 -30 0 -45 3 -30 4 -60 2 -75 4 -15 0 -16-5 -19 8 -70 0 -60 2 -20 0 -55 3 -45-2 -60 2 -60-3 -15 1 -45-1 -60-4 -30 2 -60-3 -30 2 -30-1 -30 1 -45-1 -45 2 -30-3 -15 1 -30-2 -30 0 -30-3 -30 1 -45-5 -75-2 -45-3 -30 0 -45-3 -120-4 -30 1 -90-6 -15 1 -30-3 -45-2 -30 1 -30-3 -45 0 -50-5 -25 0 -30-2 -45 1 -30-4 -90-1 -45-4 -30-2 -15 1 -30-4 -30 0 -60-2 -15-2 -30-2 -60-6 -15 0 -12 0 -3 1 -30-4 -15 3 -45-4 -75 1 -15-2 -30 1 -15-5 -15-1 -1 1 -14 1 -60 0 -15-1 -30-5 -60 0 -45-2 -30-3 -45 2 -45-4 -30 1 -30-2 -75 0 -30-2 -105 1z" fill="#7ce28c" fill-opacity="0.55"/><path d="M630 4126l105-1 30 2 75 0 30 1 30 0 45 3 45-1 30 2 45 2 60 1 30 4 15 1 60 0 14 0 1-2 15 1 15 5 30-1 15 2 75-1 45 4 15-3 30 4 3-1 12-1 15 1 60 6 30 2 15 2 60 2 30 0 30 4 15-1 30 1 45 5 90 1 30 3 45-1 30 2 25 0 50 5 45 0 30 3 30-1 45 2 30 3 15-1 90 6 30-1 120 3 45 4 30-1 45 3 75 2 45 5 30-1 30 4 30-1 30 2 15 0 30 2 45-2 45 1 30-1 30 1 30-1 60 2 30-2 60 4 45 1 15-1 60 4 60-3 45 2 55-3 20 1 60-2 70 0 19-8 16 5 15 0 75-4 60-2 30-4 45-3 30 0 90-7 75-2 30-3 45 1 30-3 30 1 30-3 36-1 24-5 20-7 40-6 10-1 5 1 30-3 15-1 30 1 45-4 45 0 45-3 30 0 15-1 60-9 30-1 30-3 30-6 45-2 14-2 1-1 30-2 30-6 30-3 15-7 30-10 25-11 20-3 60-6 60-5 30 0 30-6 14 0 56-18 35-7 30-11 30-5 15-4 20-3 40-2 45-6 15 1 20-3 25 1 30 2 30-3 30 2 45 0 60-5 45 4 45 0 30-2 15 0 60 2 60-4 45-1 80 1 10-2 15-1 30 1 30-1 15-3 45-1 60-4 45-2 25 1 35-4 30-1 30-3 45-1 15-4 45-4 30-7 15-2 55-5 5 2 15-1 15-3 30 1 30-3 45 2 30-3 45 0 45-2 3 1 12 0 30-1 30 2 20-1 40 11 55 0 5 1 15 1 30-3 30 3 30-2 30 2 15-2 60 1 30 2 36-3 19 1 5 0 45-26 25-12 20-6 30-13 15-4 10-4 5-6 20-18 40-14 30-8 15-6 30-15 45-18 30-14 33-11 87-6 30 0 10-1 5-2 15-1 15 1 2 1 23 31 5 1 54-15 21 0 45 3 6-2 7-50 32-14 29-9 31-31 30-3 68-13 22-18 25-17 5 0 15-5 30-5 75-5 51-7 47 14 47 0 20-14 15-8 45-7 75-9 56-11 4 1 15 3 30 2 44-6 47 9 29-2 30 0 35-3 10 1 15 4 5 3 10-1 45-15 25-6 15-7 35 1 45-4 45-5 30-6 15-1 15-3 30-8 10 0 2 2 33-6 30-2 15-3 45-5 45-3 30-5 60-5 45-7 30 0 40-10 5 1 15-2 30-6 45-4 15-3 15-1 6 0 39-6 15-1 5 2 25-12 15-9 45-15 20-8 10-1 30-8 45-2 15-4 15-3 3 1 42-9 28-3 17-18 18-18 57-16 30-6 30-11 15-3 44-14 1 1 45-13 30-10 15-4 15-6 75-19 45-16 60-14 30-9 17-2 43-9 17-1 43-8 30-1 30 1 30-2 45 1 30 4 45-1 5 2 22-10 33 1 15-2 48 3 27 6 30 2 11 2 4 0 15-8 30-13 33-12 27-6 8-1 7 1 30-3 15 0 30-4 15 1 30 1 45 5 45 8 15 1 3-1 47 13 25-8 15-3 7-1 23 2 47 7 13-4 15-2 15-1 5-3 46 19 24 0 30 6 15 1 13 0 47-3 11 0 10 64 24-9 15-8 70 15 35 5 15 0 15 1 10 0 5-3 15-1 30 2 6 1 54-6 25-4l0 6 -25 4 -54 6 -6-1 -30-2 -15 1 -5 3 -10 0 -15-1 -15 0 -35-5 -70-15 -15 8 -24 9 -10-64 -11 0 -47 3 -13 0 -15-1 -30-6 -24 0 -46-19 -5 3 -15 1 -15 2 -13 4 -47-7 -23-2 -7 1 -15 3 -25 8 -47-13 -3 1 -15-1 -45-8 -45-5 -30-1 -15-1 -30 4 -15 0 -30 3 -7-1 -8 1 -27 6 -33 12 -30 13 -15 8 -4 0 -11-2 -30-2 -27-6 -48-3 -15 2 -33-1 -22 10 -5-2 -45 1 -30-4 -45-1 -30 2 -30-1 -30 1 -43 8 -17 1 -43 9 -17 2 -30 9 -60 14 -45 16 -75 19 -15 6 -15 4 -30 10 -45 13 -1-1 -44 14 -15 3 -30 11 -30 6 -57 16 -18 18 -17 18 -28 3 -42 9 -3-1 -15 3 -15 4 -45 2 -30 8 -10 1 -20 8 -45 15 -15 9 -25 12 -5-2 -15 1 -39 6 -6 0 -15 1 -15 3 -45 4 -30 6 -15 2 -5-1 -40 10 -30 0 -45 7 -60 5 -30 5 -45 3 -45 5 -15 3 -30 2 -33 6 -2-2 -10 0 -30 8 -15 3 -15 1 -30 6 -45 5 -45 4 -35-1 -15 7 -25 6 -45 15 -10 1 -5-3 -15-4 -10-1 -35 3 -30 0 -29 2 -47-9 -44 6 -30-2 -15-3 -4-1 -56 11 -75 9 -45 7 -15 8 -20 14 -47 0 -47-14 -51 7 -75 5 -30 5 -15 5 -5 0 -25 17 -22 18 -68 13 -30 3 -31 31 -29 9 -32 14 -7 50 -6 2 -45-3 -21 0 -54 15 -5-1 -23-31 -2-1 -15-1 -15 1 -5 2 -10 1 -30 0 -87 6 -33 11 -30 14 -45 18 -30 15 -15 6 -30 8 -40 14 -20 18 -5 6 -10 4 -15 4 -30 13 -20 6 -25 12 -45 25 -5 1 -19-1 -36 3 -30-3 -28-1 -32 0 -15 2 -30-2 -30 2 -30-2 -30 2 -75-2 -40-11 -20 1 -30-2 -30 2 -12-1 -3-1 -45 2 -45 1 -30 2 -45-1 -30 2 -30-1 -15 3 -15 1 -5-2 -55 5 -15 2 -30 7 -45 4 -15 4 -45 1 -30 3 -30 1 -35 4 -25 0 -45 2 -60 4 -45 0 -15 3 -30 2 -30-2 -15 1 -10 2 -80 0 -45 0 -60 4 -60-2 -15 0 -30 2 -45 0 -45-3 -60 5 -45-1 -30-1 -30 3 -30-3 -25 0 -20 2 -15 0 -45 5 -40 2 -20 3 -15 4 -30 6 -30 11 -35 6 -56 18 -14 1 -30 5 -30 1 -60 4 -60 6 -20 3 -25 10 -30 11 -15 7 -30 2 -30 7 -30 2 -1 1 -14 2 -45 2 -30 5 -30 4 -30 1 -60 9 -15 1 -30-1 -45 3 -45 1 -45 4 -30-2 -15 1 -30 4 -5-1 -10 0 -40 6 -20 7 -24 5 -36 1 -30 3 -30-1 -30 3 -45-1 -30 3 -75 2 -90 8 -30-1 -45 4 -30 3 -60 2 -75 4 -15 1 -16-6 -19 8 -70 0 -60 2 -20 0 -55 3 -45-2 -60 2 -60-4 -15 1 -45 0 -60-5 -30 3 -60-3 -30 2 -30-1 -30 1 -45-2 -45 2 -30-2 -15 1 -30-3 -30 1 -30-3 -30 1 -45-5 -75-3 -45-2 -30 0 -45-3 -120-4 -30 1 -90-5 -15 1 -30-3 -45-2 -30 0 -30-3 -45 0 -50-4 -25 0 -30-3 -45 2 -30-4 -90-1 -45-5 -30-1 -15 1 -30-4 -30 0 -60-2 -15-2 -30-2 -60-6 -15-1 -12 1 -3 1 -30-4 -15 3 -45-4 -75 1 -15-2 -30 1 -15-5 -15-1 -1 2 -14 0 -60 0 -15-1 -30-4 -60-1 -45-2 -30-3 -45 2 -45-3 -30 0 -30-2 -75 1 -30-2 -105 0z" fill="#90b85c" fill-opacity="0.55"/><path d="M630 4109l105-1 30 2 75-1 30 2 30 0 45 3 45-2 30 3 45 2 60 0 30 4 15 1 60 0 14 0 1-2 15 1 15 5 30-1 15 2 75-1 45 4 15-3 30 4 3-1 12-1 15 1 60 6 30 1 15 2 60 3 30-1 30 5 15-1 30 1 45 4 90 1 30 4 45-1 30 2 25 0 50 4 45 0 30 3 30-1 45 2 30 3 15-1 90 5 30 0 120 3 45 3 30 0 45 2 75 3 45 5 30-1 30 3 30-1 30 2 15 0 30 2 45-2 45 1 30-1 30 1 30-1 60 2 30-2 60 4 45 1 15-1 60 4 60-3 45 2 55-3 20 1 60-2 70 0 19-8 16 5 15 0 75-4 60-2 30-4 45-3 30 0 90-7 75-2 30-3 45 1 30-3 30 1 30-3 36-1 24-5 20-7 40-6 10-1 5 1 30-4 15-1 30 1 60-5 30 0 45-4 15 1 30-2 2 0 28-25 30-4 30-1 30-3 30-6 45-2 14-2 1-1 30-2 30-8 30-3 15-7 30-11 25-11 20-3 60-7 60-5 30-1 30-5 14-1 56-18 35-7 30-11 30-6 15-4 20-3 40-2 45-6 15 1 20-3 25 1 30 2 30-3 30 1 45 1 60-6 45 3 45 0 30-2 15 0 60 2 60-4 45-1 80 0 10-2 15-1 30 2 30-2 15-3 45-1 105-6 25 0 35-3 30-2 30-3 45-1 15-4 45-4 30-7 15-2 55-5 5 1 15 0 15-3 30 1 30-3 45 2 30-3 45-1 45-2 3 1 12 0 30-1 30 1 20 0 40 10 75 2 30-2 30 2 30-2 30 2 15-2 30 1 30-2 30 2 36-5 9-1 10 1 5-1 45-27 25-13 20-7 30-15 15-4 10-5 5-6 20-19 40-15 30-9 15-6 30-15 45-20 30-15 33-11 87-4 30 0 10 0 5-3 15 0 15 2 2 0 23 32 5 1 54-13 21 0 45 3 6-1 7-59 32-14 29-9 31-31 30-2 68-10 22-18 25-16 5 0 15-4 30-5 75-3 51-6 47 13 47-1 20-13 15-8 45-8 75-11 56-11 4 1 15 3 30 2 44-6 47 9 29-2 30 0 15-2 30-1 15 2 5 3 10-2 15-6 30-13 25-8 15-8 35-1 40-7 50-7 30-6 15-1 15-3 30-8 10 0 2 2 33-7 30-2 15-3 45-6 45-3 30-6 60-5 45-7 30-1 40-10 5 1 15-2 30-7 45-4 15-3 15-1 6 0 39-7 15 0 5 1 25-12 15-9 45-15 20-9 10-2 30-7 45-3 15-5 15-3 3 2 42-11 28-2 17-19 18-17 57-14 30-5 30-10 15-2 44-13 1 1 15-4 75-19 40-16 50-18 45-22 60-23 30-13 60-16 17-3 43-11 30-3 30-2 15-2 15-1 45 1 30 3 45-1 5 1 22-9 33 0 15-1 15 0 5 1 10 0 18 2 27 7 30 1 11 3 4 0 15-7 30-10 33-10 35-5 7 1 30 0 8 1 7 49 30-4 45 0 30 3 30 2 30 5 15 1 3-1 47 13 25-9 15-4 7 0 23 2 47 6 13-4 15-3 15-1 5-3 42 19 28 2 30 6 28 2 47-5 11 0 10 73 24-10 15-8 70 14 35 3 15 0 15 1 10-1 5-2 15-2 30 1 6 1 54-8 25-4l0 76 -25 4 -54 6 -6-1 -30-2 -15 1 -5 3 -10 0 -15-1 -15 0 -35-5 -70-15 -15 8 -24 9 -10-64 -11 0 -47 3 -13 0 -15-1 -30-6 -24 0 -46-19 -5 3 -15 1 -15 2 -13 4 -47-7 -23-2 -7 1 -15 3 -25 8 -47-13 -3 1 -15-1 -45-8 -45-5 -30-1 -15-1 -30 4 -15 0 -30 3 -7-1 -8 1 -27 6 -33 12 -30 13 -15 8 -4 0 -11-2 -30-2 -27-6 -48-3 -15 2 -33-1 -22 10 -5-2 -45 1 -30-4 -45-1 -30 2 -30-1 -30 1 -43 8 -17 1 -43 9 -17 2 -30 9 -60 14 -45 16 -75 19 -15 6 -15 4 -30 10 -45 13 -1-1 -44 14 -15 3 -30 11 -30 6 -57 16 -18 18 -17 18 -28 3 -42 9 -3-1 -15 3 -15 4 -45 2 -30 8 -10 1 -20 8 -45 15 -15 9 -25 12 -5-2 -15 1 -39 6 -6 0 -15 1 -15 3 -45 4 -30 6 -15 2 -5-1 -40 10 -30 0 -45 7 -60 5 -30 5 -45 3 -45 5 -15 3 -30 2 -33 6 -2-2 -10 0 -30 8 -15 3 -15 1 -30 6 -45 5 -45 4 -35-1 -15 7 -25 6 -45 15 -10 1 -5-3 -15-4 -10-1 -35 3 -30 0 -29 2 -47-9 -44 6 -30-2 -15-3 -4-1 -56 11 -75 9 -45 7 -15 8 -20 14 -47 0 -47-14 -51 7 -75 5 -30 5 -15 5 -5 0 -25 17 -22 18 -68 13 -30 3 -31 31 -29 9 -32 14 -7 50 -6 2 -45-3 -21 0 -54 15 -5-1 -23-31 -2-1 -15-1 -15 1 -5 2 -10 1 -30 0 -87 6 -33 11 -30 14 -45 18 -30 15 -15 6 -30 8 -40 14 -20 18 -5 6 -10 4 -15 4 -30 13 -20 6 -25 12 -45 26 -5 0 -19-1 -36 3 -30-2 -60-1 -15 2 -30-2 -30 2 -30-3 -30 3 -15-1 -5-1 -55 0 -40-11 -20 1 -30-2 -30 1 -12 0 -3-1 -45 2 -45 0 -30 3 -45-2 -30 3 -30-1 -15 3 -15 1 -5-2 -55 5 -15 2 -30 7 -45 4 -15 4 -45 1 -30 3 -30 1 -35 4 -25-1 -45 2 -60 4 -45 1 -15 3 -30 1 -30-1 -15 1 -10 2 -80-1 -45 1 -60 4 -60-2 -15 0 -30 2 -45 0 -45-4 -60 5 -45 0 -30-2 -30 3 -30-2 -25-1 -20 3 -15-1 -45 6 -40 2 -20 3 -15 4 -30 5 -30 11 -35 7 -56 18 -14 0 -30 6 -30 0 -60 5 -60 6 -20 3 -25 11 -30 10 -15 7 -30 3 -30 6 -30 2 -1 1 -14 2 -45 2 -30 6 -30 3 -30 1 -60 9 -15 1 -30 0 -45 3 -45 0 -45 4 -30-1 -15 1 -30 3 -5-1 -10 1 -40 6 -20 7 -24 5 -36 1 -30 3 -30-1 -30 3 -45-1 -30 3 -75 2 -90 7 -30 0 -45 3 -30 4 -60 2 -75 4 -15 0 -16-5 -19 8 -70 0 -60 2 -20-1 -55 3 -45-2 -60 3 -60-4 -15 1 -45-1 -60-4 -30 2 -60-2 -30 1 -30-1 -30 1 -45-1 -45 2 -30-2 -15 0 -30-2 -30 1 -30-4 -30 1 -45-5 -75-2 -45-3 -30 1 -45-4 -120-3 -30 1 -90-6 -15 1 -30-3 -45-2 -30 1 -30-3 -45 0 -50-5 -25 0 -30-2 -45 1 -30-3 -90-1 -45-5 -30-1 -15 1 -30-4 -30 0 -60-2 -15-2 -30-2 -60-6 -15-1 -12 1 -3 1 -30-4 -15 3 -45-4 -75 1 -15-2 -30 1 -15-5 -15-1 -1 2 -14 0 -60 0 -15-1 -30-4 -60-1 -45-2 -30-2 -45 1 -45-3 -30 0 -30-1 -75 0 -30-2 -105 1z" fill="#e3ab30" fill-opacity="0.55"/><path d="M630 4953l11905 0" fill="none" stroke="#7a48b0" stroke-width="13" stroke-linejoin="round"/><path d="M630 4950l4170 0 2200-18 1260 0 4275 0" fill="none" stroke="#5aa9f0" stroke-width="9" stroke-linejoin="round"/><path d="M630 4948l4170 0 2200-22 1260-2 4275-4" fill="none" stroke="#c8413d" stroke-width="6" stroke-linejoin="round"/><path d="M630 4948l4170 0 800-12 1400-14 1260-4 4275-4" fill="none" stroke="#98c568" stroke-width="5" stroke-linejoin="round"/><path d="M630 4944l4170 0 800-14 1400-14 1240-4 4295-6" fill="none" stroke="#4560c4" stroke-width="14" stroke-linejoin="round"/><path d="M630 4938l4170 0 400-4 400-10 1400-16 1241-4 7-60 252 2 810-2 310-6 530-4 560-10 560 2 570-2 180-6 186 6 10 72 319 0" fill="none" stroke="#6446e8" stroke-width="5" stroke-linejoin="round"/><path d="M630 4932l4170 0 400-2 400-12 1400-16 1241-2 7-60 252 0 810-2 310-6 530-2 560-10 560 2 570-4 180-6 186 6 10 72 319 0" fill="none" stroke="#e58040" stroke-width="14" stroke-linejoin="round"/><path d="M630 4720l15-1 30 2 30-1 60 1 29 0 61-5 60-8 45-3 75-5 45 0 45-5 60-1 59-6 26 12 5-2 60-5 21 0 69-17 25-8 65-2 30 1 30-1 30 0 30-2 60 0 30-1 30 1 30-2 30 0 45-3 60-2 90-3 30 0 45 1 75-1 45 2 30-1 30 1 29-2 16 6 20 4 10 0 30 1 30-2 75-1 60 1 30-1 30 1 30 0 45 2 45-1 30 2 30-2 30 0 30 2 115 2 20-1 60 0 30-2 75-1 60 2 45-3 30 1 30-1 90-1 29-2 91-1 30-3 60 1 60-1 45-2 30-2 90-1 30-2 30 0 3-1 12-2 15 1 30-2 135-3 30 0 30-2 120-2 30-2 30 1 45-4 45 1 2-1 13-1 30 1 45-2 60-4 30 0 30-3 18 1 102-4 30 1 120-5 30 1 45-3 115-5 8 1 87-2 45-5 45 0 29-3 56-14 20-4 30-2 30-4 108-10 27 0 30-2 75-1 45-3 30 1 30-3 45 2 30-3 30 0 32-3 28 1 60 0 45-3 30 0 30-2 45 1 45-2 45 0 30-2 15 0 3 1 42-2 30-2 135-5 30 1 30-2 30 2 45-2 30 1 60-2 30 1 15 0 15-1 60 1 15-1 45 0 60-2 45 1 30-1 15 0 45-2 30 1 15 2 15-1 15-3 30 2 15 0 15-3 30-1 30 2 30-1 30 1 105-3 51 2 19 2 20 1 30 5 25 1 50 4 15-1 15 1 20-1 25 0 25-3 110 3 30-2 30 2 15-1 45 2 60-3 45 8 21 5 54-3 15 1 15-1 30-1 21-1 7-55 12-1 20 0 30-4 75-5 45-5 55-1 15-3 35 0 125-7 1 1 9 1 60-2 25-2 20-3 105-8 60-7 10 0 5 2 11 0 19-4 74-5 16-4 60-3 40-3 20-3 15 0 45-8 45-6 15-4 10 0 5 1 15-1 45-9 45-5 75-5 42-6 33-3 30 0 60-5 15-2 75-3 75-10 30-1 55-7 35 1 60-2 36-2 24 2 70-4 20 1 50-5 85-2 30-3 60 1 13-1 2-2 15 1 18 2 27-1 75 0 17-1 10 1 3 2 44 1 19 13 42-1 30 1 10 0 5-1 45 2 30 5 62 9 58-5 120-5 18 2 42-3 170-2 22 1 18 0 45 1 7-2 83 0 30-2 28 0 2 1 33-2 72-11 8 1 37-3 36 1 39-2 45 1 45-3 15 0 5 2 15-2 40-2 55-5 65-3 5 1 25-4 15 0 15-2 15 0 58 2 17 0 41 0 10 59 9 2 45 3 30 0 25 2 20-2 17 1 28-6 30 2 36-3 24 2 55-1" fill="none" stroke="#c0271a" stroke-width="18" stroke-linejoin="round"/><path d="M630 4150l105-1 30 2 75 0 30 2 30 0 45 3 45-2 30 3 45 2 60 1 30 4 15 1 60 1 14-1 1-1 15 1 15 4 30 0 15 1 75 0 45 3 15-2 30 4 3-1 12-1 15 1 60 6 30 2 15 2 60 2 30 0 30 4 15-1 30 2 45 4 90 1 30 4 45-1 30 2 25 0 50 5 45 0 30 3 30 0 45 2 30 3 15-1 90 5 30 0 120 3 45 4 30 0 45 2 75 3 45 5 30-1 30 3 30 0 30 2 15-1 30 3 45-2 45 1 30-1 30 1 30-2 60 3 30-3 60 5 45 0 15-1 60 4 60-3 45 2 55-3 20 1 60-3 70 0 19-8 16 5 15 0 75-5 60-1 30-4 45-3 30 0 90-8 75-2 30-3 45 1 30-4 30 1 30-3 36-1 24-5 20-7 12-2 28-3 10-1 5 1 15-1 15-2 15 0 30 2 60-4 30 1 45-3 15 1 30-1 60-9 30 0 30-3 30-6 45-1 14-2 1-1 30-1 30-6 30-2 15-7 30-10 25-10 20-3 60-5 60-3 30 0 30-5 14-1 61-17 15-2 15-3 30-12 30-5 15-4 20-3 40-2 45-5 15 0 20-2 25 0 30 3 30-4 30 2 45 1 60-5 45 3 45 0 30-2 15 0 60 2 60-3 45-1 80 1 10-3 15-1 30 2 30-1 15-3 45-1 60-4 45-2 25 1 35-4 30-1 30-4 45-1 15-3 45-4 30-8 70-7 5 2 15-1 15-3 30 1 30-3 45 2 30-3 45 0 45-3 3 2 12 0 30-2 30 2 20 0 40 10 75 2 30-3 30 3 30-3 30 2 15-1 30 0 30 3 30 4 36 0 19 3 5-1 45-22 25-10 20-4 30-11 15-2 10-4 5-5 20-17 40-13 30-8 15-5 30-14 45-17 30-14 33-10 87-6 30 0 10 0 5-3 15 0 15 1 2 1 23 31 5 1 54-14 21 0 45 3 6-2 7-69 2 1 15-3 15 0 29 3 30-20 31 0 68-6 22-16 25-15 5 0 30-7 15-2 75-3 51-7 47 15 47 1 20-13 15-8 45-6 75-8 56-9 4 2 15 2 30 2 44-5 47 10 29-2 30 0 15-1 30-1 15 3 5 3 10-2 15-5 30-12 25-8 15-7 35 0 40-6 50-5 30-5 15 0 15-3 30-7 10 1 2 1 33-5 30-1 15-2 45-4 45-2 30-4 60-3 45-6 30 1 40-8 5 0 15-1 30-5 45-3 15-2 15-1 6 0 39-5 15 0 5 2 25-11 15-9 45-14 20-9 10-1 30-6 45-2 15-5 15-2 3 1 42-9 28-2 17-18 18-17 57-14 30-5 30-10 15-2 44-13 1 1 45-11 30-9 15-3 15-6 120-27 30-4 30-3 30-5 17 0 43-10 17-3 43-9 30-2 30 0 30-4 45-2 30 2 45-4 5 1 22-11 33-2 15-2 15-1 5 1 10-1 18 1 27 6 30 0 15 2 15-5 30-8 30-6 3-1 27-3 8 0 7 2 30 2 8 1 37-5 45-1 30 2 30 2 30 4 15 0 3-1 47 11 25-9 15-4 7-1 23 1 47 5 13-4 15-3 15-2 5-3 42 19 28 2 30 6 28 2 47-7 11-1 10 71 24-9 15-8 70 16 35 4 15 1 15 1 10 0 5-2 15-1 30 1 6 2 54-6 25-4" fill="none" stroke="#5570e8" stroke-width="17" stroke-linejoin="round"/><path d="M630 4141l105-1 30 2 75 0 30 2 30-1 45 4 45-2 30 3 45 2 60 0 30 5 15 1 60 0 14-1 1-1 15 1 15 5 30-1 15 2 75-1 45 4 15-3 30 4 3-1 12 0 15 0 60 6 30 2 15 2 60 2 30 0 30 4 15-1 30 2 45 4 90 1 30 4 45-1 30 2 25 0 50 5 45 0 30 3 30-1 45 2 30 3 15-1 90 6 30-1 120 4 45 3 30 0 45 3 75 2 45 5 30-1 30 3 30 0 30 2 15-1 30 3 45-2 45 1 30-1 30 1 30-2 60 3 30-2 60 4 45 1 15-1 60 3 60-2 45 2 55-3 20 0 60-2 70 0 19-8 16 5 15 0 75-4 60-2 30-4 45-3 30 0 90-7 75-3 30-2 45 0 30-3 30 1 30-3 36-1 24-5 20-7 40-6 10 0 5 1 30-4 15 0 30 1 60-4 30 0 45-3 15 1 30-1 60-9 30-1 30-3 30-5 45-2 14-2 1-1 30-1 30-7 30-3 15-6 30-11 25-10 20-3 60-6 60-4 30 0 30-5 14-1 61-18 15-2 15-4 30-11 30-5 15-5 20-3 40-1 45-6 15 0 20-2 25 1 30 2 30-3 30 2 45 0 60-5 45 3 45 0 30-2 15 0 60 2 60-4 45 0 80 0 10-2 15-1 30 1 30-1 15-3 45 0 60-5 45-2 25 1 35-4 30-1 30-4 45-1 15-3 45-4 30-7 70-7 5 1 15 0 15-3 30 1 30-3 45 2 30-3 45 0 45-3 3 2 12 0 30-2 30 2 20 0 40 10 75 2 30-2 30 2 30-2 30 2 15-2 32 1 28 1 30 3 36-2 19 1 5 0 45-24 25-12 20-5 30-13 15-3 10-4 5-5 20-18 40-13 30-8 15-5 30-14 45-17 30-14 33-10 87-6 30 0 10-1 5-2 15-1 15 1 2 1 23 31 5 1 54-15 21 0 45 3 6-2 7-57 2 0 15-4 15-2 29-1 31-24 30 1 68-2 22-16 25-13 5 0 15-5 30-5 75-5 51-7 47 15 47 1 20-13 15-7 45-7 75-7 56-10 4 2 15 3 30 2 44-5 47 10 29-1 30 1 15-2 30 0 15 2 5 3 10-1 15-5 30-13 25-7 15-7 35-1 90-11 30-6 15-1 15-2 30-9 10 1 2 2 33-6 30-2 15-3 45-5 45-3 30-5 60-5 45-6 30 0 40-10 5 1 15-1 30-7 45-3 15-3 15-2 6 1 39-6 15-1 5 1 25-11 15-9 45-15 20-9 10-1 30-7 45-3 15-5 15-2 3 1 42-10 28-2 17-19 18-17 57-16 30-5 30-11 15-3 44-13 1 0 45-12 60-18 75-11 45-11 25-4 20-2 45-8 17-1 43-10 17-3 43-9 30-2 30 0 30-3 45-2 30 1 45-3 5 1 25-11 60-4 33 3 27 7 30 1 11 3 4 0 15-6 30-8 30-7 3-1 35-3 7 2 30 1 8 1 37-4 60 2 45 5 30 5 15 1 3-1 47 10 25-10 15-4 7-1 23 1 47 3 13-4 15-4 15-2 5-3 42 20 28 2 30 8 28 2 47-7 11-1 10 71 24-9 15-8 70 16 35 4 15 1 15 1 10 0 5-2 15-1 30 1 6 2 54-6 25-4" fill="none" stroke="#4c90e8" stroke-width="15" stroke-linejoin="round"/><path d="M630 4129l105 0 30 2 75-1 30 2 30 0 45 3 45-2 30 3 45 2 60 1 30 4 15 1 60 0 14 0 1-2 15 1 15 5 30-1 15 2 75-1 45 4 15-3 30 4 3-1 12-1 15 1 60 6 30 2 15 2 60 2 30 0 30 4 15-1 30 1 45 5 90 1 30 4 45-2 30 3 25 0 50 4 45 0 30 3 30 0 45 2 30 3 15-1 90 5 30-1 120 4 45 3 30 0 45 2 75 3 45 5 30-1 30 3 30-1 30 3 15-1 30 2 45-2 45 2 30-1 30 1 30-2 60 3 30-3 60 5 45 0 15-1 60 4 60-2 45 2 55-3 20 0 60-2 70 0 19-8 16 6 15-1 75-4 60-2 30-3 45-4 30 1 90-8 75-2 30-3 45 1 30-3 30 1 30-3 36-1 24-5 20-7 40-6 10 0 5 1 30-4 15-1 30 2 45-4 45-1 45-3 30 1 15-1 60-9 30-1 30-4 30-5 45-2 14-2 1-1 30-2 30-7 30-2 15-7 30-11 25-10 20-3 60-6 60-4 30-1 30-5 14-1 56-18 35-6 30-11 30-6 15-4 20-3 40-2 45-5 15 0 20-2 25 0 30 3 30-3 30 1 45 1 60-5 45 3 45 0 30-2 15 0 60 2 60-4 45 0 80 0 10-2 15-1 30 2 30-2 15-3 45 0 60-4 45-2 25 0 35-4 30-1 30-3 45-1 15-4 45-4 30-7 15-2 55-5 5 2 15-1 15-3 30 1 30-2 45 1 30-2 45-1 45-2 3 1 12 1 30-2 30 2 20-1 40 11 75 2 30-2 30 2 30-2 30 2 15-2 32 0 28 1 30 3 36-3 19 1 5-1 45-25 25-12 20-6 30-13 15-4 10-4 5-6 20-18 40-14 30-8 15-6 30-15 45-18 30-14 33-11 87-6 30 0 10-1 5-2 15-1 15 1 2 1 23 31 5 1 54-15 21 0 45 3 6-2 7-50 32-14 29-9 31-31 30-3 68-13 22-18 25-17 5 0 15-5 30-5 75-5 51-7 47 14 47 0 20-14 15-8 45-7 75-9 56-11 4 1 15 3 30 2 44-6 47 9 29-2 30 0 35-3 10 1 15 4 5 3 10-1 45-15 25-6 15-7 35 1 45-4 45-5 30-6 15-1 15-3 30-8 10 0 2 2 33-6 30-2 15-3 45-5 45-3 30-5 60-5 45-7 30 0 40-10 5 1 15-2 30-6 45-4 15-3 15-1 6 0 39-6 15-1 5 2 25-12 15-9 45-15 20-8 10-1 30-8 45-2 15-4 15-3 3 1 42-9 28-3 17-18 18-18 57-16 30-6 30-11 15-3 44-14 1 1 45-13 30-10 15-4 15-6 75-19 45-16 60-14 30-9 17-2 43-9 17-1 43-8 30-1 30 1 30-2 45 1 30 4 45-1 5 2 22-10 33 1 15-2 48 3 27 6 30 2 11 2 4 0 15-8 30-13 33-12 27-6 8-1 7 1 30-3 15 0 30-4 15 1 30 1 45 5 45 8 15 1 3-1 47 13 25-8 15-3 7-1 23 2 47 7 13-4 15-2 15-1 5-3 46 19 24 0 30 6 15 1 13 0 47-3 11 0 10 64 24-9 15-8 70 15 35 5 15 0 15 1 10 0 5-3 15-1 30 2 6 1 54-6 25-4" fill="none" stroke="#7ce28c" stroke-width="10" stroke-linejoin="round"/><path d="M630 4126l105-1 30 2 75 0 30 1 30 0 45 3 45-1 30 2 45 2 60 1 30 4 15 1 60 0 14 0 1-2 15 1 15 5 30-1 15 2 75-1 45 4 15-3 30 4 3-1 12-1 15 1 60 6 30 2 15 2 60 2 30 0 30 4 15-1 30 1 45 5 90 1 30 3 45-1 30 2 25 0 50 5 45 0 30 3 30-1 45 2 30 3 15-1 90 6 30-1 120 3 45 4 30-1 45 3 75 2 45 5 30-1 30 4 30-1 30 2 15 0 30 2 45-2 45 1 30-1 30 1 30-1 60 2 30-2 60 4 45 1 15-1 60 4 60-3 45 2 55-3 20 1 60-2 70 0 19-8 16 5 15 0 75-4 60-2 30-4 45-3 30 0 90-7 75-2 30-3 45 1 30-3 30 1 30-3 36-1 24-5 20-7 40-6 10-1 5 1 30-3 15-1 30 1 45-4 45 0 45-3 30 0 15-1 60-9 30-1 30-3 30-6 45-2 14-2 1-1 30-2 30-6 30-3 15-7 30-10 25-11 20-3 60-6 60-5 30 0 30-6 14 0 56-18 35-7 30-11 30-5 15-4 20-3 40-2 45-6 15 1 20-3 25 1 30 2 30-3 30 2 45 0 60-5 45 4 45 0 30-2 15 0 60 2 60-4 45-1 80 1 10-2 15-1 30 1 30-1 15-3 45-1 60-4 45-2 25 1 35-4 30-1 30-3 45-1 15-4 45-4 30-7 15-2 55-5 5 2 15-1 15-3 30 1 30-3 45 2 30-3 45 0 45-2 3 1 12 0 30-1 30 2 20-1 40 11 55 0 5 1 15 1 30-3 30 3 30-2 30 2 15-2 60 1 30 2 36-3 19 1 5 0 45-26 25-12 20-6 30-13 15-4 10-4 5-6 20-18 40-14 30-8 15-6 30-15 45-18 30-14 33-11 87-6 30 0 10-1 5-2 15-1 15 1 2 1 23 31 5 1 54-15 21 0 45 3 6-2 7-50 32-14 29-9 31-31 30-3 68-13 22-18 25-17 5 0 15-5 30-5 75-5 51-7 47 14 47 0 20-14 15-8 45-7 75-9 56-11 4 1 15 3 30 2 44-6 47 9 29-2 30 0 35-3 10 1 15 4 5 3 10-1 45-15 25-6 15-7 35 1 45-4 45-5 30-6 15-1 15-3 30-8 10 0 2 2 33-6 30-2 15-3 45-5 45-3 30-5 60-5 45-7 30 0 40-10 5 1 15-2 30-6 45-4 15-3 15-1 6 0 39-6 15-1 5 2 25-12 15-9 45-15 20-8 10-1 30-8 45-2 15-4 15-3 3 1 42-9 28-3 17-18 18-18 57-16 30-6 30-11 15-3 44-14 1 1 45-13 30-10 15-4 15-6 75-19 45-16 60-14 30-9 17-2 43-9 17-1 43-8 30-1 30 1 30-2 45 1 30 4 45-1 5 2 22-10 33 1 15-2 48 3 27 6 30 2 11 2 4 0 15-8 30-13 33-12 27-6 8-1 7 1 30-3 15 0 30-4 15 1 30 1 45 5 45 8 15 1 3-1 47 13 25-8 15-3 7-1 23 2 47 7 13-4 15-2 15-1 5-3 46 19 24 0 30 6 15 1 13 0 47-3 11 0 10 64 24-9 15-8 70 15 35 5 15 0 15 1 10 0 5-3 15-1 30 2 6 1 54-6 25-4" fill="none" stroke="#90b85c" stroke-width="13" stroke-linejoin="round"/><path d="M630 4109l105-1 30 2 75-1 30 2 30 0 45 3 45-2 30 3 45 2 60 0 30 4 15 1 60 0 14 0 1-2 15 1 15 5 30-1 15 2 75-1 45 4 15-3 30 4 3-1 12-1 15 1 60 6 30 1 15 2 60 3 30-1 30 5 15-1 30 1 45 4 90 1 30 4 45-1 30 2 25 0 50 4 45 0 30 3 30-1 45 2 30 3 15-1 90 5 30 0 120 3 45 3 30 0 45 2 75 3 45 5 30-1 30 3 30-1 30 2 15 0 30 2 45-2 45 1 30-1 30 1 30-1 60 2 30-2 60 4 45 1 15-1 60 4 60-3 45 2 55-3 20 1 60-2 70 0 19-8 16 5 15 0 75-4 60-2 30-4 45-3 30 0 90-7 75-2 30-3 45 1 30-3 30 1 30-3 36-1 24-5 20-7 40-6 10-1 5 1 30-4 15-1 30 1 60-5 30 0 45-4 15 1 30-2 2 0 28-25 30-4 30-1 30-3 30-6 45-2 14-2 1-1 30-2 30-8 30-3 15-7 30-11 25-11 20-3 60-7 60-5 30-1 30-5 14-1 56-18 35-7 30-11 30-6 15-4 20-3 40-2 45-6 15 1 20-3 25 1 30 2 30-3 30 1 45 1 60-6 45 3 45 0 30-2 15 0 60 2 60-4 45-1 80 0 10-2 15-1 30 2 30-2 15-3 45-1 105-6 25 0 35-3 30-2 30-3 45-1 15-4 45-4 30-7 15-2 55-5 5 1 15 0 15-3 30 1 30-3 45 2 30-3 45-1 45-2 3 1 12 0 30-1 30 1 20 0 40 10 75 2 30-2 30 2 30-2 30 2 15-2 30 1 30-2 30 2 36-5 9-1 10 1 5-1 45-27 25-13 20-7 30-15 15-4 10-5 5-6 20-19 40-15 30-9 15-6 30-15 45-20 30-15 33-11 87-4 30 0 10 0 5-3 15 0 15 2 2 0 23 32 5 1 54-13 21 0 45 3 6-1 7-59 32-14 29-9 31-31 30-2 68-10 22-18 25-16 5 0 15-4 30-5 75-3 51-6 47 13 47-1 20-13 15-8 45-8 75-11 56-11 4 1 15 3 30 2 44-6 47 9 29-2 30 0 15-2 30-1 15 2 5 3 10-2 15-6 30-13 25-8 15-8 35-1 40-7 50-7 30-6 15-1 15-3 30-8 10 0 2 2 33-7 30-2 15-3 45-6 45-3 30-6 60-5 45-7 30-1 40-10 5 1 15-2 30-7 45-4 15-3 15-1 6 0 39-7 15 0 5 1 25-12 15-9 45-15 20-9 10-2 30-7 45-3 15-5 15-3 3 2 42-11 28-2 17-19 18-17 57-14 30-5 30-10 15-2 44-13 1 1 15-4 75-19 40-16 50-18 45-22 60-23 30-13 60-16 17-3 43-11 30-3 30-2 15-2 15-1 45 1 30 3 45-1 5 1 22-9 33 0 15-1 15 0 5 1 10 0 18 2 27 7 30 1 11 3 4 0 15-7 30-10 33-10 35-5 7 1 30 0 8 1 7 49 30-4 45 0 30 3 30 2 30 5 15 1 3-1 47 13 25-9 15-4 7 0 23 2 47 6 13-4 15-3 15-1 5-3 42 19 28 2 30 6 28 2 47-5 11 0 10 73 24-10 15-8 70 14 35 3 15 0 15 1 10-1 5-2 15-2 30 1 6 1 54-8 25-4" fill="none" stroke="#e3ab30" stroke-width="17" stroke-linejoin="round"/></g><rect x="65" y="529.2" width="1190.5" height="13.8" fill="#dfe4f8"/><path d="M65.0,540.90L920.0,540.87L948.1,540.87L951.5,538.62L956.0,537.50L958.0,534.69L970.6,534.12L974.8,533.28L980.5,533.56L993.1,534.69L1004.4,534.69L1012.8,535.25L1026.9,535.25L1029.7,534.12L1040.9,534.12L1046.5,533.28L1052.2,533.84L1055.0,533.56L1057.8,535.81L1066.2,535.25L1077.5,534.69L1088.7,534.97L1092.1,533.84L1095.8,534.69L1100.0,533.56L1104.2,534.12L1107.6,531.87L1109.8,533.56L1116.9,533.84L1121.1,533.56L1123.0,535.53L1133.7,534.97L1136.5,534.40L1142.2,534.97L1145.0,534.12L1148.3,534.97L1153.4,534.12L1163.3,534.12L1170.3,536.37L1181.5,536.93L1190.0,536.09L1194.2,535.25L1197.0,535.81L1201.2,535.25L1206.8,535.53L1209.7,538.62L1218.1,539.18L1235.0,539.47L1239.2,537.50L1242.0,539.47L1246.2,540.31L1253.5,540.03L1253.5,543L65,543Z" fill="#cfd6f3"/><path d="M65.0,540.90L920.0,540.87L948.1,540.87L951.5,538.62L956.0,537.50L958.0,534.69L970.6,534.12L974.8,533.28L980.5,533.56L993.1,534.69L1004.4,534.69L1012.8,535.25L1026.9,535.25L1029.7,534.12L1040.9,534.12L1046.5,533.28L1052.2,533.84L1055.0,533.56L1057.8,535.81L1066.2,535.25L1077.5,534.69L1088.7,534.97L1092.1,533.84L1095.8,534.69L1100.0,533.56L1104.2,534.12L1107.6,531.87L1109.8,533.56L1116.9,533.84L1121.1,533.56L1123.0,535.53L1133.7,534.97L1136.5,534.40L1142.2,534.97L1145.0,534.12L1148.3,534.97L1153.4,534.12L1163.3,534.12L1170.3,536.37L1181.5,536.93L1190.0,536.09L1194.2,535.25L1197.0,535.81L1201.2,535.25L1206.8,535.53L1209.7,538.62L1218.1,539.18L1235.0,539.47L1239.2,537.50L1242.0,539.47L1246.2,540.31L1253.5,540.03" fill="none" stroke="#aab6e3" stroke-width="0.8"/><rect x="65" y="540.8" width="1190.5" height="0.8" fill="#bac4ec"/><rect x="65" y="541.6" width="1190.5" height="1.5" fill="#cdd4f3"/><rect x="65" y="533" width="1.9" height="6.8" rx="0.5" fill="#2f7de0"/><rect x="1253.5" y="532.6" width="2" height="7.6" rx="0.5" fill="#2f7de0"/><circle cx="74.7" cy="243.4" r="3.95" fill="#e6b03a"/><circle cx="141.9" cy="243.4" r="3.95" fill="#94b860"/><circle cx="185.6" cy="243.4" r="3.95" fill="#7ce28c"/><circle cx="234.0" cy="243.4" r="3.95" fill="#4c90e8"/><circle cx="291.0" cy="243.4" r="3.95" fill="#5b73e6"/><circle cx="351.9" cy="243.4" r="3.95" fill="#c0271a"/><circle cx="396.9" cy="243.4" r="3.95" fill="#e08250"/><circle cx="443.4" cy="243.4" r="3.95" fill="#6446e8"/><circle cx="497.5" cy="243.4" r="3.95" fill="#4d67c4"/><circle cx="541.6" cy="243.4" r="3.95" fill="#98c568"/><circle cx="643.1" cy="243.4" r="3.95" fill="#de2621"/><circle cx="704.0" cy="243.4" r="3.95" fill="#c8413d"/><circle cx="809.1" cy="243.4" r="3.95" fill="#83b9dd"/><circle cx="847.4" cy="243.4" r="3.95" fill="#4c8d5c"/><circle cx="886.3" cy="243.4" r="3.95" fill="#2253f5"/><circle cx="926.3" cy="243.4" r="3.95" fill="#8050b5"/><circle cx="997.9" cy="243.4" r="3.95" fill="#5064c0"/><circle cx="1067.0" cy="243.4" r="3.95" fill="#95c864"/><circle cx="1115.8" cy="243.4" r="3.95" fill="#ecba4c"/><circle cx="1174.5" cy="243.4" r="3.95" fill="#d2615b"/></svg><div class="t" style="left:82.80px;top:233.53px;line-height:20px;font-size:10px;color:#9fa8c6;font-weight:400;letter-spacing:-0.05px;">BNB Chain</div><div class="t" style="left:150.00px;top:233.53px;line-height:20px;font-size:10px;color:#9fa8c6;font-weight:400;letter-spacing:-0.05px;">Aptos</div><div class="t" style="left:193.75px;top:233.53px;line-height:20px;font-size:10px;color:#9fa8c6;font-weight:400;letter-spacing:-0.18px;">Solana</div><div class="t" style="left:242.50px;top:233.53px;line-height:20px;font-size:10px;color:#9fa8c6;font-weight:400;letter-spacing:0.08px;">Arbitrum</div><div class="t" style="left:299.00px;top:233.53px;line-height:20px;font-size:10px;color:#9fa8c6;font-weight:400;letter-spacing:-0.1px;">Ethereum</div><div class="t" style="left:360.00px;top:233.53px;line-height:20px;font-size:10px;color:#9fa8c6;font-weight:400;letter-spacing:-0.4px;">TRON</div><div class="t" style="left:405.00px;top:233.53px;line-height:20px;font-size:10px;color:#9fa8c6;font-weight:400;letter-spacing:-0.05px;">Stellar</div><div class="t" style="left:451.60px;top:233.53px;line-height:20px;font-size:10px;color:#9fa8c6;font-weight:400;letter-spacing:-0.12px;">Polygon</div><div class="t" style="left:506.00px;top:233.53px;line-height:20px;font-size:10px;color:#9fa8c6;font-weight:400;letter-spacing:-0.5px;">NEAR</div><div class="t" style="left:549.70px;top:233.53px;line-height:20px;font-size:10px;color:#9fa8c6;font-weight:400;letter-spacing:-0.05px;">Hedera Hashgraph</div><div class="t" style="left:651.25px;top:233.53px;line-height:20px;font-size:10px;color:#9fa8c6;font-weight:400;letter-spacing:-0.05px;">Optimism</div><div class="t" style="left:712.20px;top:233.53px;line-height:20px;font-size:10px;color:#9fa8c6;font-weight:400;letter-spacing:0.08px;">Avalanche C-Chain</div><div class="t" style="left:817.50px;top:233.53px;line-height:20px;font-size:10px;color:#9fa8c6;font-weight:400;letter-spacing:-0.6px;">XDC</div><div class="t" style="left:855.80px;top:233.53px;line-height:20px;font-size:10px;color:#9fa8c6;font-weight:400;letter-spacing:-0.05px;">Celo</div><div class="t" style="left:894.70px;top:233.53px;line-height:20px;font-size:10px;color:#9fa8c6;font-weight:400;letter-spacing:-0.22px;">Base</div><div class="t" style="left:934.70px;top:233.53px;line-height:20px;font-size:10px;color:#9fa8c6;font-weight:400;letter-spacing:-0.18px;">XRP Ledger</div><div class="t" style="left:1006.20px;top:233.53px;line-height:20px;font-size:10px;color:#9fa8c6;font-weight:400;letter-spacing:-0.13px;">ZKsync Era</div><div class="t" style="left:1075.40px;top:233.53px;line-height:20px;font-size:10px;color:#9fa8c6;font-weight:400;letter-spacing:-0.05px;">Mantle</div><div class="t" style="left:1124.20px;top:233.53px;line-height:20px;font-size:10px;color:#9fa8c6;font-weight:400;letter-spacing:-0.4px;">MANTRA</div><div class="t" style="left:1182.90px;top:233.53px;line-height:20px;font-size:10px;color:#9fa8c6;font-weight:400;letter-spacing:-0.22px;">Plume</div><div class="t" style="right:1223.20px;top:486.04px;line-height:20px;font-size:10px;color:#9da5c0;font-weight:400;">$0</div><div class="t" style="right:1223.20px;top:456.88px;line-height:20px;font-size:10px;color:#9da5c0;font-weight:400;">$50B</div><div class="t" style="right:1223.20px;top:427.94px;line-height:20px;font-size:10px;color:#9da5c0;font-weight:400;">$100B</div><div class="t" style="right:1223.20px;top:398.44px;line-height:20px;font-size:10px;color:#9da5c0;font-weight:400;">$150B</div><div class="t" style="right:1223.20px;top:368.88px;line-height:20px;font-size:10px;color:#9da5c0;font-weight:400;">$200B</div><div class="t" style="right:1223.20px;top:339.99px;line-height:20px;font-size:10px;color:#9da5c0;font-weight:400;">$250B</div><div class="t" style="right:1223.20px;top:310.44px;line-height:20px;font-size:10px;color:#9da5c0;font-weight:400;">$300B</div><div class="t" style="right:1223.20px;top:281.88px;line-height:20px;font-size:10px;color:#9da5c0;font-weight:400;">$350B</div><div class="t" style="left:-236.70px;width:600px;text-align:center;top:497.74px;line-height:20px;font-size:10px;color:#9da5c0;font-weight:400;letter-spacing:0.14px;">2023/01/01</div><div class="t" style="left:-163.96px;width:600px;text-align:center;top:497.74px;line-height:20px;font-size:10px;color:#9da5c0;font-weight:400;letter-spacing:0.36px;">2023/03/13</div><div class="t" style="left:-91.21px;width:600px;text-align:center;top:497.74px;line-height:20px;font-size:10px;color:#9da5c0;font-weight:400;letter-spacing:0.58px;">2023/05/23</div><div class="t" style="left:-18.47px;width:600px;text-align:center;top:497.74px;line-height:20px;font-size:10px;color:#9da5c0;font-weight:400;letter-spacing:0.58px;">2023/08/02</div><div class="t" style="left:54.28px;width:600px;text-align:center;top:497.74px;line-height:20px;font-size:10px;color:#9da5c0;font-weight:400;letter-spacing:0.14px;">2023/10/12</div><div class="t" style="left:127.02px;width:600px;text-align:center;top:497.74px;line-height:20px;font-size:10px;color:#9da5c0;font-weight:400;letter-spacing:0.36px;">2023/12/22</div><div class="t" style="left:199.76px;width:600px;text-align:center;top:497.74px;line-height:20px;font-size:10px;color:#9da5c0;font-weight:400;letter-spacing:0.58px;">2024/03/02</div><div class="t" style="left:272.51px;width:600px;text-align:center;top:497.74px;line-height:20px;font-size:10px;color:#9da5c0;font-weight:400;letter-spacing:0.36px;">2024/05/12</div><div class="t" style="left:345.25px;width:600px;text-align:center;top:497.74px;line-height:20px;font-size:10px;color:#9da5c0;font-weight:400;letter-spacing:0.58px;">2024/07/22</div><div class="t" style="left:417.99px;width:600px;text-align:center;top:497.74px;line-height:20px;font-size:10px;color:#9da5c0;font-weight:400;letter-spacing:0.14px;">2024/10/01</div><div class="t" style="left:490.74px;width:600px;text-align:center;top:497.74px;line-height:20px;font-size:10px;color:#9da5c0;font-weight:400;letter-spacing:-0.08px;">2024/12/11</div><div class="t" style="left:563.48px;width:600px;text-align:center;top:497.74px;line-height:20px;font-size:10px;color:#9da5c0;font-weight:400;letter-spacing:0.58px;">2025/02/20</div><div class="t" style="left:636.23px;width:600px;text-align:center;top:497.74px;line-height:20px;font-size:10px;color:#9da5c0;font-weight:400;letter-spacing:0.58px;">2025/05/02</div><div class="t" style="left:708.97px;width:600px;text-align:center;top:497.74px;line-height:20px;font-size:10px;color:#9da5c0;font-weight:400;letter-spacing:0.36px;">2025/07/12</div><div class="t" style="left:781.71px;width:600px;text-align:center;top:497.74px;line-height:20px;font-size:10px;color:#9da5c0;font-weight:400;letter-spacing:0.36px;">2025/09/21</div><div class="t" style="left:854.46px;width:600px;text-align:center;top:497.74px;line-height:20px;font-size:10px;color:#9da5c0;font-weight:400;letter-spacing:0.14px;">2025/12/01</div><div class="t" style="left:927.20px;width:600px;text-align:center;top:497.74px;line-height:20px;font-size:10px;color:#9da5c0;font-weight:400;letter-spacing:0.36px;">2026/02/10</div></body></html>
